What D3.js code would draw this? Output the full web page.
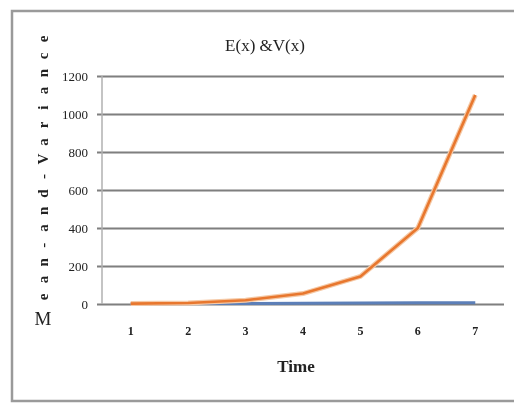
<!DOCTYPE html>
<html>
<head>
<meta charset="utf-8">
<script src="https://cdn.jsdelivr.net/npm/d3@7"></script>
<style>
  html, body { margin: 0; padding: 0; background: #fff; }
  svg { display: block; }
</style>
</head>
<body>
<script>
// Time steps and the two series: E(x) (blue) and V(x) (orange)
const times = [1, 2, 3, 4, 5, 6, 7];
const meanValues = [1, 2, 3, 4, 5, 6, 7];
const varianceValues = [2, 5, 20, 55, 145, 400, 1100];
const yTicks = [0, 200, 400, 600, 800, 1000, 1200];
const chartTitle = "E(x) &V(x)";
const xTitle = "Time";
const yTitle = "Mean and Variance";

const W = 514, H = 403;
const plot = { left: 102, right: 504, top: 76, bottom: 304 };
const serif = "'Liberation Serif', 'DejaVu Serif', serif";

const svg = d3.select("body").append("svg")
  .attr("width", W).attr("height", H)
  .style("font-family", serif);

const defs = svg.append("defs");
defs.append("filter").attr("id", "soft")
  .append("feGaussianBlur").attr("stdDeviation", 0.45);

const g = svg.append("g").attr("filter", "url(#soft)");

// outer chart frame (open on the right)
g.append("path")
  .attr("d", `M${W + 5},11 H12 V${H - 2} H${W + 5}`)
  .attr("fill", "none").attr("stroke", "#9a9a9a").attr("stroke-width", 2.5);

const x = d3.scaleBand().domain(times).range([plot.left, plot.right]);
const y = d3.scaleLinear().domain([0, 1200]).range([plot.bottom, plot.top]);

// horizontal gridlines with small ticks left of the axis
const yAxis = d3.axisLeft(y).tickValues(yTicks).tickFormat(d3.format("d"))
  .tickSize(-(plot.right - plot.left) - 5).tickPadding(9);
const ya = g.append("g").attr("transform", `translate(${plot.left - 5},0)`).call(yAxis)
  .attr("font-family", serif);
ya.select(".domain").remove();
ya.selectAll(".tick line")
  .attr("stroke", "#7f7f7f").attr("stroke-width", 2);
ya.selectAll(".tick text")
  .attr("font-size", 13).attr("fill", "#222");

// vertical axis line
g.append("line")
  .attr("x1", plot.left).attr("x2", plot.left)
  .attr("y1", plot.top).attr("y2", plot.bottom)
  .attr("stroke", "#b0b0b0").attr("stroke-width", 1.5);

// category labels along the bottom
const xAxis = d3.axisBottom(x).tickSize(0).tickPadding(22);
const xa = g.append("g").attr("transform", `translate(0,${plot.bottom})`).call(xAxis)
  .attr("font-family", serif);
xa.select(".domain").remove();
xa.selectAll(".tick text").attr("font-size", 12).attr("font-weight", "bold").attr("fill", "#222");

const line = d3.line()
  .x((d, i) => x(times[i]) + x.bandwidth() / 2)
  .y(d => y(d));

g.append("path").datum(meanValues)
  .attr("d", line).attr("fill", "none")
  .attr("stroke", "#5b7fb8").attr("stroke-width", 3);

g.append("path").datum(varianceValues)
  .attr("d", line).attr("fill", "none")
  .attr("stroke", "#f5c9a6").attr("stroke-width", 5).attr("stroke-linejoin", "round");
g.append("path").datum(varianceValues)
  .attr("d", line).attr("fill", "none")
  .attr("stroke", "#e8772e").attr("stroke-width", 2.6).attr("stroke-linejoin", "round");

// titles
g.append("text").attr("x", 265).attr("y", 51)
  .attr("text-anchor", "middle").attr("font-size", 17).attr("fill", "#222")
  .text(chartTitle);

g.append("text").attr("x", 296).attr("y", 372)
  .attr("text-anchor", "middle").attr("font-size", 17).attr("font-weight", "bold")
  .attr("fill", "#222").text(xTitle);

// stacked vertical axis title, reading upward from the bottom
const chars = Array.from(yTitle);
const step = 17.2;
const yt = g.append("g").attr("font-size", 15).attr("fill", "#222");
chars.forEach((c, i) => {
  const cy = 318 - i * step;
  if (i === 0) {
    yt.append("text").attr("x", 43).attr("y", cy + 7)
      .attr("text-anchor", "middle").attr("font-size", 19).text(c);
  } else {
    yt.append("text")
      .attr("transform", `translate(43,${cy - 4}) rotate(-90)`)
      .attr("text-anchor", "middle").attr("dy", "0.35em")
      .attr("font-weight", "bold").text(c === " " ? "-" : c);
  }
});
</script>
</body>
</html>
